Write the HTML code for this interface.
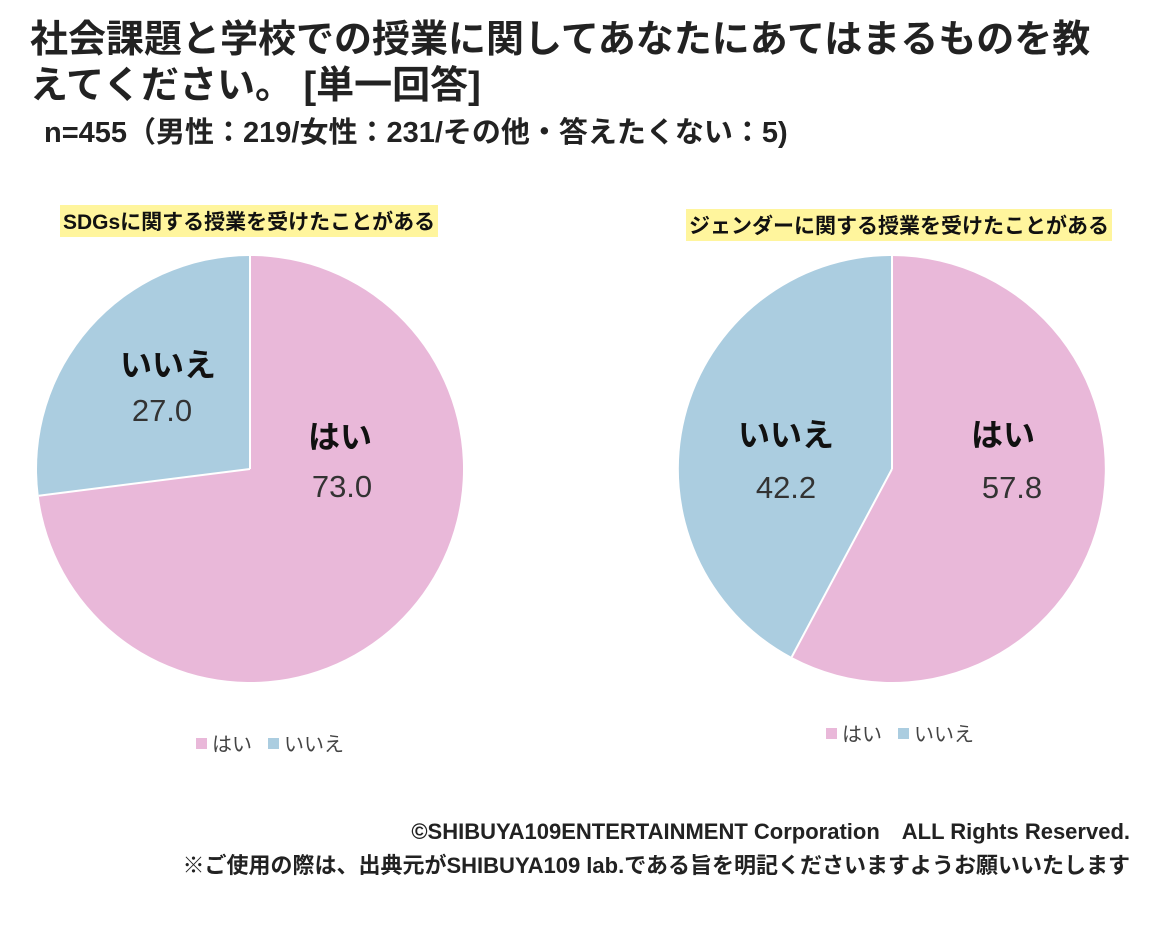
<!DOCTYPE html>
<html><head><meta charset="utf-8"><style>
body{margin:0;width:1160px;height:929px;background:#fff;font-family:"Liberation Sans","Noto Sans CJK JP",sans-serif;position:relative;overflow:hidden;color:#111}
.t{position:absolute;font-weight:bold;white-space:nowrap}
</style></head><body>
<div class="t" style="left:30px;top:17px;font-size:38px;line-height:46px;color:#222">社会課題と学校での授業に関してあなたにあてはまるものを教<br>えてください。 [単一回答]</div>
<div class="t" style="left:44px;top:109px;font-size:29px;color:#222">n=455（男性：219/女性：231/その他・答えたくない：5)</div>
<div class="t" style="left:60px;top:205px;font-size:21px;background:#fff59d;padding:1px 3px">SDGsに関する授業を受けたことがある</div>
<div class="t" style="left:686px;top:209px;font-size:21px;background:#fff59d;padding:1px 3px">ジェンダーに関する授業を受けたことがある</div>
<svg width="1160" height="929" style="position:absolute;left:0;top:0">
<path d="M250,469 L250,256 A213,213 0 1 1 38.7,495.7 Z" fill="#e9b8d9"/>
<path d="M250,469 L38.7,495.7 A213,213 0 0 1 250,256 Z" fill="#abcde0"/>
<path d="M892,469 L892,256 A213,213 0 1 1 791.7,657 Z" fill="#e9b8d9"/>
<path d="M892,469 L791.7,657 A213,213 0 0 1 892,256 Z" fill="#abcde0"/>
<g stroke="#fff" stroke-width="2"><line x1="250" y1="469" x2="250" y2="256"/><line x1="250" y1="469" x2="38.7" y2="495.7"/><line x1="892" y1="469" x2="892" y2="256"/><line x1="892" y1="469" x2="791.7" y2="657"/></g>
<g font-family="Liberation Sans,Noto Sans CJK JP,sans-serif" text-anchor="middle">
<text x="168" y="376" font-size="32" font-weight="bold" fill="#111">いいえ</text>
<text x="162" y="421" font-size="31" fill="#333">27.0</text>
<text x="340" y="448" font-size="32" font-weight="bold" fill="#111">はい</text>
<text x="342" y="497" font-size="31" fill="#333">73.0</text>
<text x="786" y="446" font-size="32" font-weight="bold" fill="#111">いいえ</text>
<text x="786" y="498" font-size="31" fill="#333">42.2</text>
<text x="1003" y="446" font-size="32" font-weight="bold" fill="#111">はい</text>
<text x="1012" y="498" font-size="31" fill="#333">57.8</text>
</g>
<g font-family="Liberation Sans,Noto Sans CJK JP,sans-serif" font-size="20" fill="#444">
<rect x="196" y="738" width="11" height="11" fill="#e9b8d9"/><text x="212" y="751">はい</text>
<rect x="268" y="738" width="11" height="11" fill="#abcde0"/><text x="284" y="751">いいえ</text>
<rect x="826" y="728" width="11" height="11" fill="#e9b8d9"/><text x="842" y="741">はい</text>
<rect x="898" y="728" width="11" height="11" fill="#abcde0"/><text x="914" y="741">いいえ</text>
</g>
</svg>
<div class="t" style="right:30px;top:814px;font-size:22px;color:#222">©SHIBUYA109ENTERTAINMENT Corporation　ALL Rights Reserved.</div>
<div class="t" style="right:30px;top:848px;font-size:22px;color:#222">※ご使用の際は、出典元がSHIBUYA109 lab.である旨を明記くださいますようお願いいたします</div>
</body></html>
